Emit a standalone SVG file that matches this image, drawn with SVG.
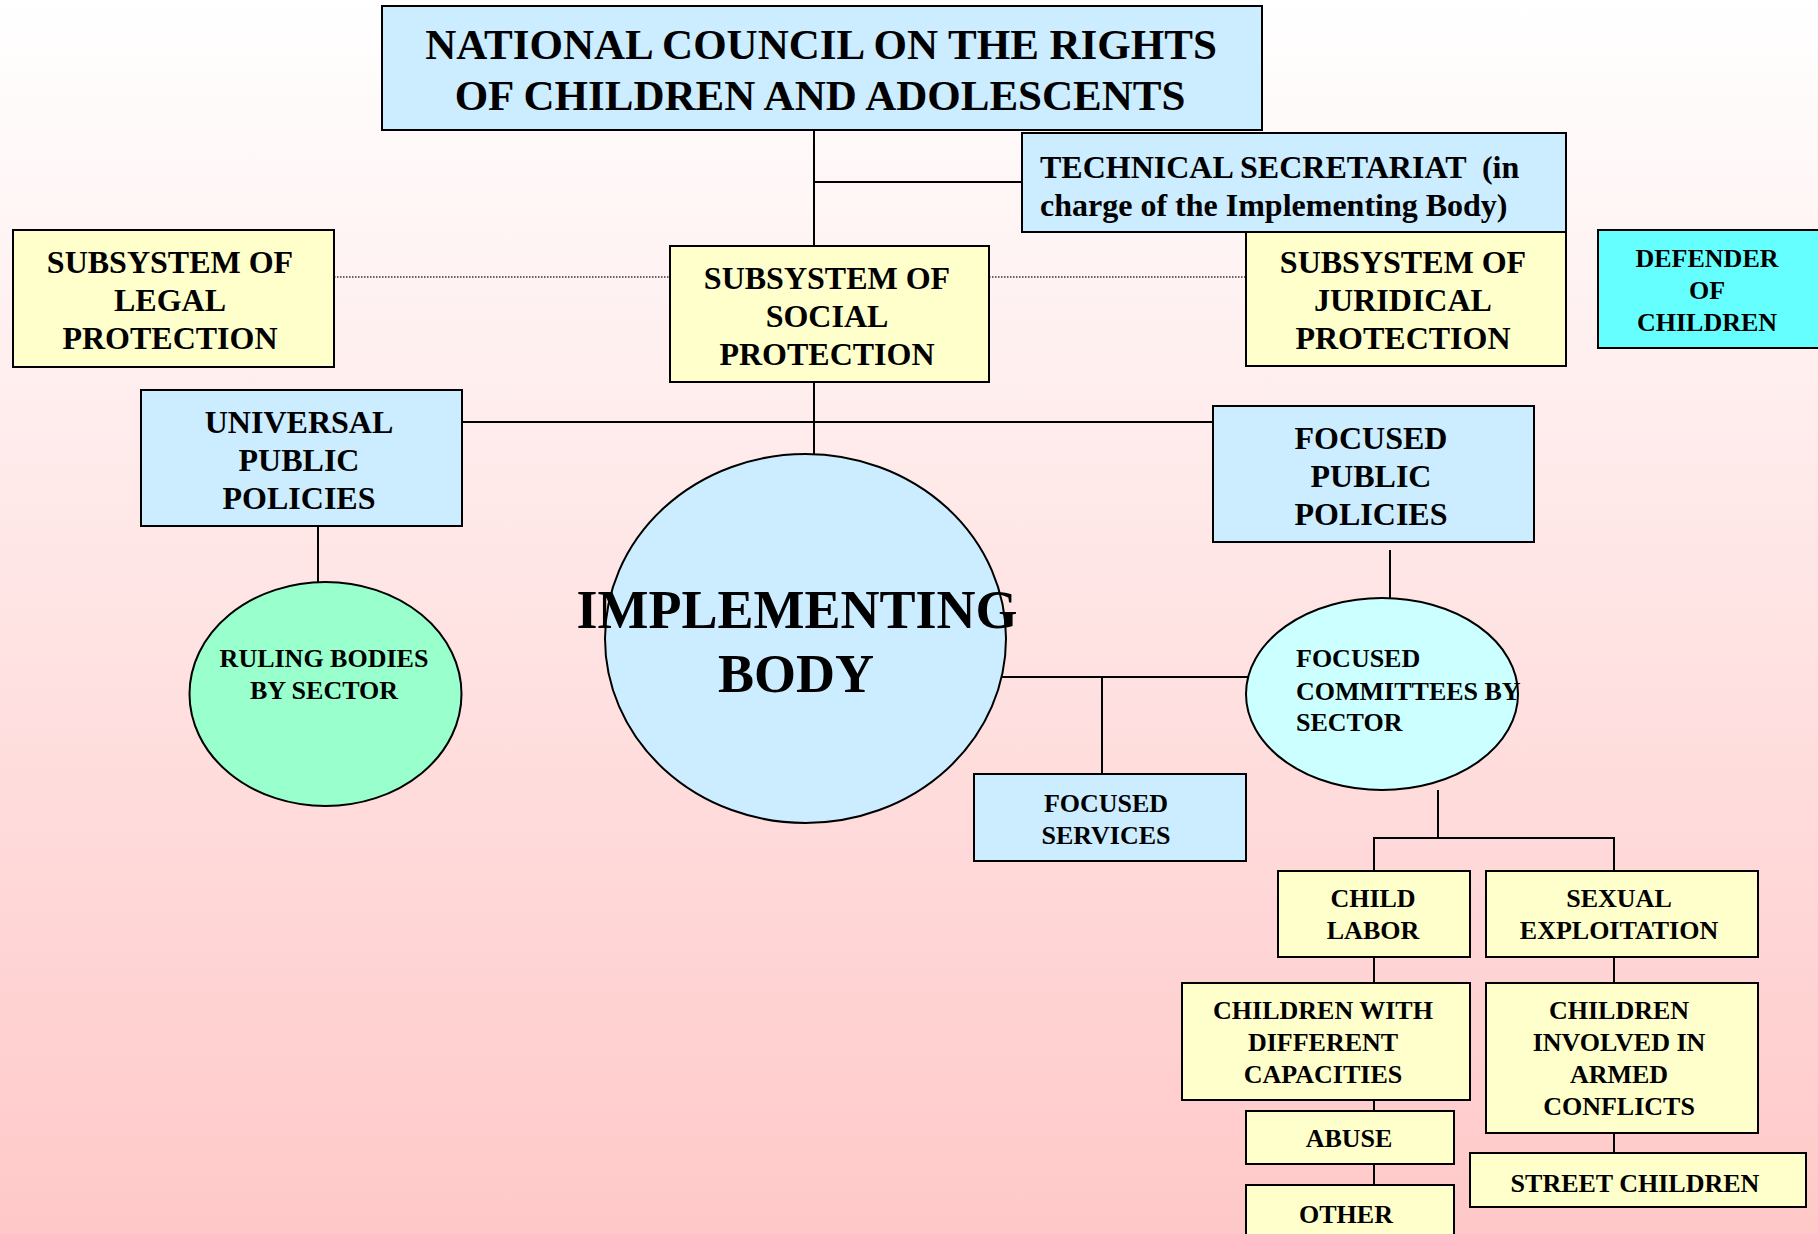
<svg xmlns="http://www.w3.org/2000/svg" width="1818" height="1234" viewBox="0 0 1818 1234">
<defs>
<linearGradient id="bg" x1="0" y1="0" x2="0" y2="1">
<stop offset="0" stop-color="#FFFFFF"/>
<stop offset="1" stop-color="#FFC8C8"/>
</linearGradient>
<style>
.box{stroke:#000;stroke-width:2}
.blue{fill:#CCECFF}
.yellow{fill:#FFFFCC}
.cyan{fill:#66FFFF}
.aqua{fill:#CCFFFF}
.green{fill:#99FFCC}
.ln{stroke:#000;stroke-width:2;fill:none}
.dot{stroke:#333;stroke-width:1.5;stroke-dasharray:1.5 1.5;fill:none}
text{font-family:"Liberation Serif","Times New Roman",serif;font-weight:bold;fill:#000}
.c{text-anchor:middle}
.f43{font-size:43px}
.f32{font-size:32px}
.f26{font-size:26px}
.f54{font-size:54px}
</style>
</defs>
<rect x="0" y="0" width="1818" height="1234" fill="url(#bg)"/>

<g id="connectors">
<line class="ln" x1="814" y1="130" x2="814" y2="246"/>
<line class="ln" x1="814" y1="182" x2="1022" y2="182"/>
<line class="dot" x1="334" y1="277" x2="670" y2="277"/>
<line class="dot" x1="989" y1="277" x2="1246" y2="277"/>
<line class="ln" x1="814" y1="382" x2="814" y2="455"/>
<line class="ln" x1="462" y1="422" x2="1213" y2="422"/>
<line class="ln" x1="318" y1="526" x2="318" y2="582"/>
<line class="ln" x1="1390" y1="550" x2="1390" y2="598"/>
<line class="ln" x1="1002" y1="677" x2="1248" y2="677"/>
<line class="ln" x1="1102" y1="677" x2="1102" y2="774"/>
<line class="ln" x1="1438" y1="790" x2="1438" y2="838"/>
<polyline class="ln" points="1374,871 1374,838 1614,838 1614,871"/>
<line class="ln" x1="1374" y1="957" x2="1374" y2="983"/>
<line class="ln" x1="1614" y1="957" x2="1614" y2="983"/>
<line class="ln" x1="1374" y1="1100" x2="1374" y2="1111"/>
<line class="ln" x1="1374" y1="1164" x2="1374" y2="1185"/>
<line class="ln" x1="1614" y1="1133" x2="1614" y2="1153"/>
</g>

<g id="national-council">
<rect class="box blue" x="382" y="6" width="880" height="124"/>
<text class="c f43" x="821" y="59">NATIONAL COUNCIL ON THE RIGHTS</text>
<text class="c f43" x="820" y="110">OF CHILDREN AND ADOLESCENTS</text>
</g>

<g id="technical-secretariat">
<rect class="box blue" x="1022" y="133" width="544" height="99"/>
<text class="f32" x="1040" y="178" xml:space="preserve">TECHNICAL SECRETARIAT  (in</text>
<text class="f32" x="1040" y="216">charge of the Implementing Body)</text>
</g>

<g id="legal-protection">
<rect class="box yellow" x="13" y="230" width="321" height="137"/>
<text class="c f32" x="170" y="273">SUBSYSTEM OF</text>
<text class="c f32" x="170" y="311">LEGAL</text>
<text class="c f32" x="170" y="349">PROTECTION</text>
</g>

<g id="social-protection">
<rect class="box yellow" x="670" y="246" width="319" height="136"/>
<text class="c f32" x="827" y="289">SUBSYSTEM OF</text>
<text class="c f32" x="827" y="327">SOCIAL</text>
<text class="c f32" x="827" y="365">PROTECTION</text>
</g>

<g id="juridical-protection">
<rect class="box yellow" x="1246" y="232" width="320" height="134"/>
<text class="c f32" x="1403" y="273">SUBSYSTEM OF</text>
<text class="c f32" x="1403" y="311">JURIDICAL</text>
<text class="c f32" x="1403" y="349">PROTECTION</text>
</g>

<g id="defender">
<rect class="box cyan" x="1598" y="230" width="240" height="118"/>
<text class="c f26" x="1707" y="267">DEFENDER</text>
<text class="c f26" x="1707" y="299">OF</text>
<text class="c f26" x="1707" y="331">CHILDREN</text>
</g>

<g id="universal-policies">
<rect class="box blue" x="141" y="390" width="321" height="136"/>
<text class="c f32" x="299" y="433">UNIVERSAL</text>
<text class="c f32" x="299" y="471">PUBLIC</text>
<text class="c f32" x="299" y="509">POLICIES</text>
</g>

<g id="focused-policies">
<rect class="box blue" x="1213" y="406" width="321" height="136"/>
<text class="c f32" x="1371" y="449">FOCUSED</text>
<text class="c f32" x="1371" y="487">PUBLIC</text>
<text class="c f32" x="1371" y="525">POLICIES</text>
</g>

<g id="implementing-body">
<ellipse class="box blue" cx="805.5" cy="638.5" rx="200.5" ry="184.5"/>
<text class="c f54" x="797" y="628">IMPLEMENTING</text>
<text class="c f54" x="796" y="692">BODY</text>
</g>

<g id="ruling-bodies">
<ellipse class="box green" cx="325.5" cy="694" rx="136" ry="112"/>
<text class="c f26" x="324" y="667">RULING BODIES</text>
<text class="c f26" x="324" y="699">BY SECTOR</text>
</g>

<g id="focused-committees">
<ellipse class="box aqua" cx="1382" cy="694" rx="136" ry="96"/>
<text class="f26" x="1296" y="667">FOCUSED</text>
<text class="f26" x="1296" y="700">COMMITTEES BY</text>
<text class="f26" x="1296" y="731">SECTOR</text>
</g>

<g id="focused-services">
<rect class="box blue" x="974" y="774" width="272" height="87"/>
<text class="c f26" x="1106" y="812">FOCUSED</text>
<text class="c f26" x="1106" y="844">SERVICES</text>
</g>

<g id="child-labor">
<rect class="box yellow" x="1278" y="871" width="192" height="86"/>
<text class="c f26" x="1373" y="907">CHILD</text>
<text class="c f26" x="1373" y="939">LABOR</text>
</g>

<g id="sexual-exploitation">
<rect class="box yellow" x="1486" y="871" width="272" height="86"/>
<text class="c f26" x="1619" y="907">SEXUAL</text>
<text class="c f26" x="1619" y="939">EXPLOITATION</text>
</g>

<g id="different-capacities">
<rect class="box yellow" x="1182" y="983" width="288" height="117"/>
<text class="c f26" x="1323" y="1019">CHILDREN WITH</text>
<text class="c f26" x="1323" y="1051">DIFFERENT</text>
<text class="c f26" x="1323" y="1083">CAPACITIES</text>
</g>

<g id="armed-conflicts">
<rect class="box yellow" x="1486" y="983" width="272" height="150"/>
<text class="c f26" x="1619" y="1019">CHILDREN</text>
<text class="c f26" x="1619" y="1051">INVOLVED IN</text>
<text class="c f26" x="1619" y="1083">ARMED</text>
<text class="c f26" x="1619" y="1115">CONFLICTS</text>
</g>

<g id="abuse">
<rect class="box yellow" x="1246" y="1111" width="208" height="53"/>
<text class="c f26" x="1349" y="1147">ABUSE</text>
</g>

<g id="other">
<rect class="box yellow" x="1246" y="1185" width="208" height="70"/>
<text class="c f26" x="1346" y="1223">OTHER</text>
</g>

<g id="street-children">
<rect class="box yellow" x="1470" y="1153" width="336" height="54"/>
<text class="c f26" x="1635" y="1192">STREET CHILDREN</text>
</g>
</svg>
